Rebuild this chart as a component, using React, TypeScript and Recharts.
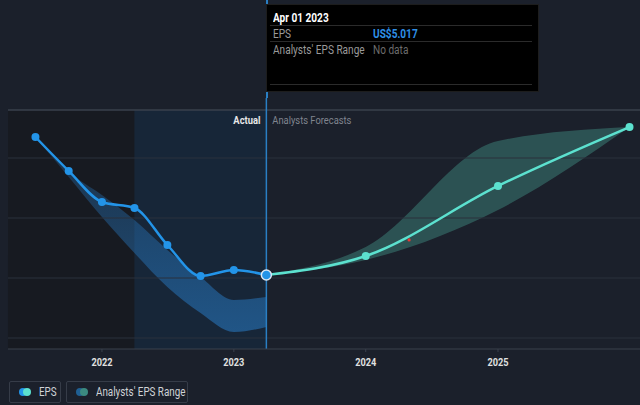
import {
  ComposedChart,
  Line,
  Area,
  XAxis,
  YAxis,
  ReferenceLine,
  ReferenceArea,
  ReferenceDot,
} from "recharts";

// quarterly reported EPS (US$)
const actualDates = [
  "2021-07-01",
  "2021-10-01",
  "2022-01-01",
  "2022-04-01",
  "2022-07-01",
  "2022-10-01",
  "2023-01-01",
  "2023-04-01",
];
const actualEps = [5.675, 5.392, 5.133, 5.083, 4.775, 4.517, 4.567, 4.525];
const actualRangeLow = [5.675, 5.342, 5.008, 4.708, 4.425, 4.208, 4.05, 4.092];
const actualRangeHigh = [5.675, 5.383, 5.192, 4.983, 4.733, 4.508, 4.317, 4.342];

// analyst forecasts
const forecastDates = ["2023-04-01", "2024-01-01", "2025-01-01", "2025-12-31"];
const forecastEps = [4.525, 4.683, 5.267, 5.758];
const forecastLow = [4.525, 4.65, 5.067, 5.758];
const forecastHigh = [4.525, 4.758, 5.642, 5.758];

const yearTicks = ["2022-01-01", "2023-01-01", "2024-01-01", "2025-01-01"];
const yTickValues = [4, 6];
const gridValues = [4, 4.5, 5, 5.5];

const ts = (s: string) => new Date(s + "T00:00:00Z").getTime();

const BG = "#1b202b";
const BLUE = "#2394e8";
const TEAL = "#5ce1cf";
const FONT = "Roboto, 'Noto Sans', sans-serif";

const rows: Record<string, any> = {};
actualDates.forEach((d, i) => {
  rows[d] = {
    ...(rows[d] || { t: ts(d) }),
    eps: actualEps[i],
    actRange: [actualRangeLow[i], actualRangeHigh[i]],
  };
});
forecastDates.forEach((d, i) => {
  rows[d] = {
    ...(rows[d] || { t: ts(d) }),
    fc: forecastEps[i],
    fcRange: [forecastLow[i], forecastHigh[i]],
  };
});
const data = Object.values(rows).sort((a, b) => a.t - b.t);

const xStart = ts("2021-04-16");
const xEnd = ts("2026-01-29");
const splitDate = ts("2023-04-01");
const highlightStart = ts("2022-04-01");
const yMin = 4 - 11 / 120;

// the original uses a condensed face, squeeze Roboto a bit
const Narrow = ({ children, k = 0.84 }: { children: any; k?: number }) => (
  <span
    style={{
      display: "inline-block",
      transform: `scaleX(${k})`,
      transformOrigin: "left center",
      whiteSpace: "nowrap",
    }}
  >
    {children}
  </span>
);

const SvgText = ({ x, y, k = 0.82, anchor = "start", children, ...rest }: any) => (
  <text transform={`translate(${x} ${y}) scale(${k} 1)`} x={0} y={0} textAnchor={anchor} fontFamily={FONT} {...rest}>
    {children}
  </text>
);

const YTick = (props: any) => {
  const { y, payload } = props;
  return (
    <SvgText x={10} y={y + 6} k={0.8} fill="#e6e6e6" fontSize={11.5} fontWeight={700}>
      {`US$${payload.value}`}
    </SvgText>
  );
};

const XTick = (props: any) => {
  const { x, y, payload } = props;
  return (
    <SvgText x={x} y={y + 12} k={0.8} anchor="middle" fill="#e0e0e0" fontSize={11.5} fontWeight={700}>
      {String(new Date(payload.value).getUTCFullYear())}
    </SvgText>
  );
};

const ActualDot = (props: any) => {
  const { cx, cy, index } = props;
  if (cx == null || cy == null) return null;
  if (index === actualDates.length - 1) {
    return <circle key={index} cx={cx} cy={cy} r={5} fill={BLUE} stroke="#dbe8f5" strokeWidth={1.5} />;
  }
  return <circle key={index} cx={cx} cy={cy} r={4} fill={BLUE} />;
};

const ForecastDot = (props: any) => {
  const { cx, cy, index, payload } = props;
  if (cx == null || cy == null || payload.t === splitDate) return <g key={index} />;
  return <circle key={index} cx={cx} cy={cy} r={4} fill={TEAL} />;
};

const SplitLabel = (props: any) => {
  const { viewBox } = props;
  const x = viewBox.x;
  return (
    <g>
      <SvgText x={x - 6} y={124} k={0.85} anchor="end" fill="#e8e8e8" fontWeight={700} fontSize={11}>
        Actual
      </SvgText>
      <SvgText x={x + 6} y={124} k={0.85} fill="#80858f" fontSize={11}>
        Analysts Forecasts
      </SvgText>
    </g>
  );
};

export default function App() {
  return (
    <div
      style={{
        position: "fixed",
        left: 0,
        top: 0,
        width: 640,
        height: 405,
        background: BG,
        fontFamily: FONT,
        overflow: "hidden",
      }}
    >
      {/* split line above the plot area */}
      <div style={{ position: "absolute", left: 266, top: 0, width: 1.5, height: 98, background: "#2a7fc4" }} />

      <ComposedChart
        width={640}
        height={405}
        data={data}
        margin={{ top: 98, right: 0, bottom: 26, left: 8 }}
      >
        <defs>
          <linearGradient id="actBand" x1="0" y1="0" x2="0" y2="1">
            <stop offset="0%" stopColor="#2a84d4" stopOpacity={0.22} />
            <stop offset="100%" stopColor="#2a84d4" stopOpacity={0.5} />
          </linearGradient>
        </defs>
        <XAxis
          dataKey="t"
          type="number"
          scale="time"
          domain={[xStart, xEnd]}
          allowDataOverflow
          ticks={yearTicks.map(ts)}
          tick={<XTick />}
          axisLine={{ stroke: "#3a404c" }}
          tickLine={{ stroke: "#3a404c" }}
          tickSize={3}
          height={30}
        />
        <YAxis
          type="number"
          domain={[yMin, 6]}
          allowDataOverflow
          ticks={yTickValues}
          tick={<YTick />}
          axisLine={false}
          tickLine={false}
          width={0}
        />
        <ReferenceArea x1={xStart} x2={highlightStart} y1={yMin} y2={5.9} fill="#171a21" fillOpacity={1} stroke="none" />
        <ReferenceArea x1={highlightStart} x2={splitDate} y1={yMin} y2={5.9} fill="#172638" fillOpacity={1} stroke="none" />
        {gridValues.map((v) => (
          <ReferenceLine key={v} y={v} stroke="#2b313c" strokeWidth={1} />
        ))}
        <ReferenceLine y={5.9} stroke="#3a404c" strokeWidth={1.5} />

        <Area
          dataKey="actRange"
          type="monotone"
          stroke="none"
          fill="url(#actBand)"
          fillOpacity={1}
          isAnimationActive={false}
          activeDot={false}
        />
        <Area
          dataKey="fcRange"
          type="monotone"
          stroke="none"
          fill="#4aa597"
          fillOpacity={0.38}
          isAnimationActive={false}
          activeDot={false}
        />
        <ReferenceLine x={splitDate} stroke="#2a7fc4" strokeWidth={1.5} label={<SplitLabel />} />
        <Line
          dataKey="fc"
          type="monotone"
          stroke={TEAL}
          strokeWidth={2.5}
          dot={<ForecastDot />}
          activeDot={false}
          isAnimationActive={false}
        />
        <Line
          dataKey="eps"
          type="monotone"
          stroke={BLUE}
          strokeWidth={2.5}
          dot={<ActualDot />}
          activeDot={false}
          isAnimationActive={false}
        />
        <ReferenceDot x={ts("2024-04-30")} y={4.817} r={1.6} fill="#e53935" stroke="none" />
      </ComposedChart>

      {/* fixed hover card */}
      <div
        style={{
          position: "absolute",
          left: 266,
          top: 4,
          width: 271,
          height: 86,
          background: "#000",
          border: "1px solid #1d1d1d",
          fontSize: 12,
          lineHeight: "14px",
        }}
      >
        <div style={{ position: "absolute", left: 6, top: 6, color: "#fff", fontWeight: 700 }}>
          <Narrow>Apr 01 2023</Narrow>
        </div>
        <div style={{ position: "absolute", left: 3, right: 6, top: 20, borderTop: "1.5px solid #2b2b2b" }} />
        <div style={{ position: "absolute", left: 6, top: 22, color: "#9a9a9a" }}>
          <Narrow>EPS</Narrow>
        </div>
        <div style={{ position: "absolute", left: 106, top: 22, color: "#2e8fe6", fontWeight: 700 }}>
          <Narrow>US$5.017</Narrow>
        </div>
        <div style={{ position: "absolute", left: 3, right: 6, top: 36, borderTop: "1.5px solid #2b2b2b" }} />
        <div style={{ position: "absolute", left: 6, top: 38, color: "#9a9a9a" }}>
          <Narrow>Analysts' EPS Range</Narrow>
        </div>
        <div style={{ position: "absolute", left: 106, top: 38, color: "#6c6c6c" }}>
          <Narrow>No data</Narrow>
        </div>
        <div style={{ position: "absolute", left: 3, right: 6, top: 79, borderTop: "1.5px solid #2b2b2b" }} />
      </div>

      {/* legend */}
      {[
        { name: "EPS", c1: BLUE, c2: TEAL, left: 9, width: 52 },
        { name: "Analysts' EPS Range", c1: "#1f5f93", c2: "#3b8a80", left: 66, width: 122 },
      ].map((item) => (
        <div
          key={item.name}
          style={{
            position: "absolute",
            left: item.left,
            top: 381,
            width: item.width,
            height: 22,
            boxSizing: "border-box",
            display: "flex",
            alignItems: "center",
            paddingLeft: 9,
            border: "1px solid #363c48",
            borderRadius: 2,
            color: "#cfd2d6",
            fontSize: 12,
            overflow: "hidden",
          }}
        >
          <svg width={12} height={8} style={{ marginRight: 8, flex: "none" }}>
            <circle cx={4} cy={4} r={4} fill={item.c1} />
            <circle cx={8} cy={4} r={4} fill={item.c2} />
          </svg>
          <Narrow k={0.82}>{item.name}</Narrow>
        </div>
      ))}
    </div>
  );
}
